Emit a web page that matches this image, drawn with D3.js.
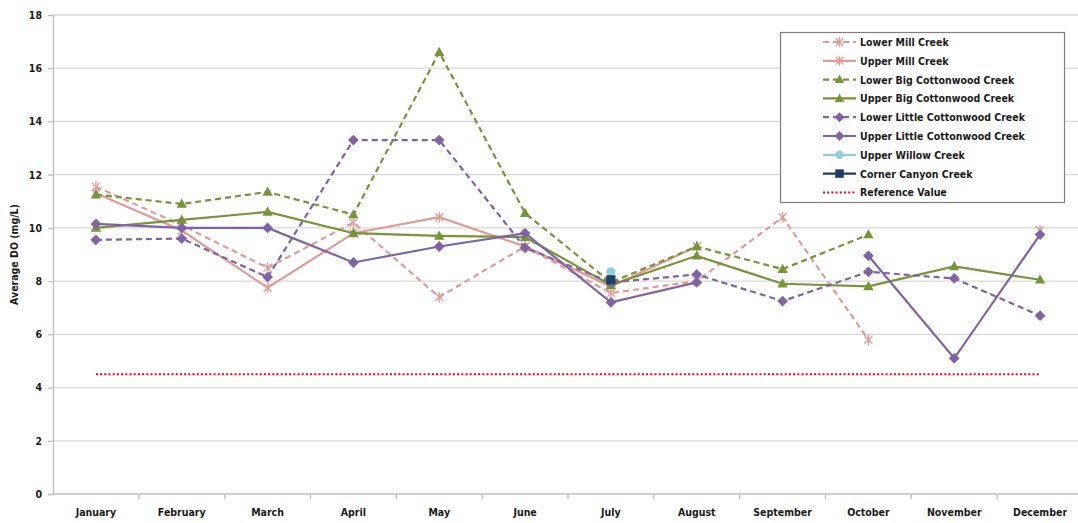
<!DOCTYPE html>
<html>
<head>
<meta charset="utf-8">
<script src="https://cdn.jsdelivr.net/npm/d3@7"></script>
<style>
  body { margin: 0; background: #fff; }
  svg text { font-family: "Liberation Sans Narrow", "DejaVu Sans Condensed", "Liberation Sans", sans-serif; font-weight: bold; fill: #1a1a1a; }
</style>
</head>
<body>
<svg id="chart" width="1078" height="523"></svg>
<script>
// months along the x axis
var months = ["January", "February", "March", "April", "May", "June",
  "July", "August", "September", "October", "November", "December"];
var yTicks = [0, 2, 4, 6, 8, 10, 12, 14, 16, 18];

// average DO per month (mg/L), null = no sample
var lowerMill = [11.55, 10.1, 8.5, 10.2, 7.4, 9.3, 7.55, 8.0, 10.4, 5.8, null, null];
var upperMill = [11.3, 9.9, 7.75, 9.8, 10.4, 9.3, 7.8, 9.3, null, null, null, 9.9];
var lowerBig = [11.25, 10.9, 11.35, 10.5, 16.6, 10.55, 7.95, 9.3, 8.45, 9.75, null, null];
var upperBig = [10.0, 10.3, 10.6, 9.8, 9.7, 9.65, 7.85, 8.95, 7.9, 7.8, 8.55, 8.05];
var lowerLittle = [9.55, 9.6, 8.15, 13.3, 13.3, 9.25, 7.95, 8.25, 7.25, 8.35, 8.1, 6.7];
var upperLittle = [10.15, 10.0, 10.0, 8.7, 9.3, 9.8, 7.2, 7.95, null, 8.95, 5.1, 9.75];
var upperWillow = [null, null, null, null, null, null, 8.35, null, null, null, null, null];
var cornerCanyon = [null, null, null, null, null, null, 8.05, null, null, null, null, null];
var referenceValue = [4.5, 4.5, 4.5, 4.5, 4.5, 4.5, 4.5, 4.5, 4.5, 4.5, 4.5, 4.5];

var series = [
  { name: "Lower Mill Creek", values: lowerMill, color: "#e09a98", dash: "6,4", marker: "star" },
  { name: "Upper Mill Creek", values: upperMill, color: "#e09a98", dash: null, marker: "star" },
  { name: "Lower Big Cottonwood Creek", values: lowerBig, color: "#77933c", dash: "6,4", marker: "triangle" },
  { name: "Upper Big Cottonwood Creek", values: upperBig, color: "#77933c", dash: null, marker: "triangle" },
  { name: "Lower Little Cottonwood Creek", values: lowerLittle, color: "#8064a2", dash: "6,4", marker: "diamond" },
  { name: "Upper Little Cottonwood Creek", values: upperLittle, color: "#8064a2", dash: null, marker: "diamond" },
  { name: "Upper Willow Creek", values: upperWillow, color: "#93cddd", dash: null, marker: "circle" },
  { name: "Corner Canyon Creek", values: cornerCanyon, color: "#1f3d66", dash: null, marker: "square" },
  { name: "Reference Value", values: referenceValue, color: "#ff0000", dash: "2,2.2", marker: null }
];

var svg = d3.select("#chart");
var pLeft = 53, pRight = 1083, pTop = 15, pBottom = 494;

var x = d3.scaleBand().domain(months).range([pLeft, pRight]);
var y = d3.scaleLinear().domain([0, 18]).range([pBottom, pTop]);

// gridlines
svg.append("g").selectAll("line")
  .data(yTicks.slice(1))
  .enter().append("line")
  .attr("x1", pLeft).attr("x2", pRight)
  .attr("y1", function(d) { return y(d); })
  .attr("y2", function(d) { return y(d); })
  .attr("stroke", "#d9d9d9")
  .attr("stroke-width", 1.3);

// y axis
var yAxis = d3.axisLeft(y).tickValues(yTicks).tickSize(5).tickPadding(6);
var gy = svg.append("g").attr("transform", "translate(" + pLeft + ",0)").call(yAxis);
gy.select(".domain").attr("stroke", "#bfbfbf").attr("stroke-width", 1.3);
gy.selectAll(".tick line").attr("stroke", "#bfbfbf").attr("stroke-width", 1.3);
gy.selectAll("text").style("font-size", "10.5px");

// x axis with ticks between categories
var gx = svg.append("g").attr("transform", "translate(0," + pBottom + ")");
gx.append("line").attr("x1", pLeft).attr("x2", pRight).attr("stroke", "#bfbfbf").attr("stroke-width", 1.3);
gx.selectAll(".xt").data(months.slice(1)).enter().append("line")
  .attr("class", "xt")
  .attr("x1", function(d) { return x(d); })
  .attr("x2", function(d) { return x(d); })
  .attr("y1", 0).attr("y2", 5)
  .attr("stroke", "#bfbfbf").attr("stroke-width", 1.3);
gx.selectAll("text").data(months).enter().append("text")
  .attr("x", function(d) { return x(d) + x.bandwidth() / 2; })
  .attr("y", 22)
  .attr("text-anchor", "middle")
  .style("font-size", "10.5px")
  .text(function(d) { return d; });

// y axis title
svg.append("text")
  .attr("transform", "translate(18," + ((pTop + pBottom) / 2) + ") rotate(-90)")
  .attr("text-anchor", "middle")
  .style("font-size", "10.5px")
  .text("Average DO (mg/L)");

function cx(i) { return x(months[i]) + x.bandwidth() / 2; }

function markerPath(type, s) {
  if (type === "triangle") return "M0," + (-s) + "L" + (s * 0.95) + "," + (s * 0.7) + "L" + (-s * 0.95) + "," + (s * 0.7) + "Z";
  if (type === "diamond") return "M0," + (-s) + "L" + s + ",0L0," + s + "L" + (-s) + ",0Z";
  if (type === "square") return "M" + (-s * 0.85) + "," + (-s * 0.85) + "h" + (s * 1.7) + "v" + (s * 1.7) + "h" + (-s * 1.7) + "Z";
  if (type === "star") {
    var a = s * 0.75;
    return "M" + (-a) + "," + (-a) + "L" + a + "," + a + "M" + a + "," + (-a) + "L" + (-a) + "," + a +
      "M0," + (-s) + "L0," + s;
  }
  return null;
}

function drawMarker(g, type, color, px, py, s) {
  if (type === "circle") {
    g.append("circle").attr("cx", px).attr("cy", py).attr("r", s * 0.85).attr("fill", color);
  } else if (type === "star") {
    g.append("path").attr("d", markerPath(type, s)).attr("transform", "translate(" + px + "," + py + ")")
      .attr("fill", "none").attr("stroke", color).attr("stroke-width", 1.3);
  } else if (type) {
    g.append("path").attr("d", markerPath(type, s)).attr("transform", "translate(" + px + "," + py + ")")
      .attr("fill", color);
  }
}

var line = d3.line()
  .defined(function(d) { return d != null; })
  .x(function(d, i) { return cx(i); })
  .y(function(d) { return y(d); });

var plot = svg.append("g");
series.forEach(function(s) {
  var g = plot.append("g");
  g.append("path")
    .attr("d", line(s.values))
    .attr("fill", "none")
    .attr("stroke", s.color)
    .attr("stroke-width", s.marker ? 2.2 : 2)
    .attr("stroke-dasharray", s.dash);
  s.values.forEach(function(v, i) {
    if (v == null) return;
    drawMarker(g, s.marker, s.color, cx(i), y(v), 5.4);
  });
});

// legend
var lg = svg.append("g");
lg.append("rect").attr("x", 780.5).attr("y", 32.5).attr("width", 284).attr("height", 170)
  .attr("fill", "#fff").attr("stroke", "#7f7f7f").attr("stroke-width", 1.2);
series.forEach(function(s, i) {
  var ly = 42 + i * 18.8;
  lg.append("line").attr("x1", 823).attr("x2", 856).attr("y1", ly).attr("y2", ly)
    .attr("stroke", s.color).attr("stroke-width", s.marker ? 2.2 : 2).attr("stroke-dasharray", s.dash);
  drawMarker(lg, s.marker, s.color, 839.5, ly, 5);
  lg.append("text").attr("x", 860).attr("y", ly + 4).style("font-size", "10.5px").text(s.name);
});
</script>
</body>
</html>
